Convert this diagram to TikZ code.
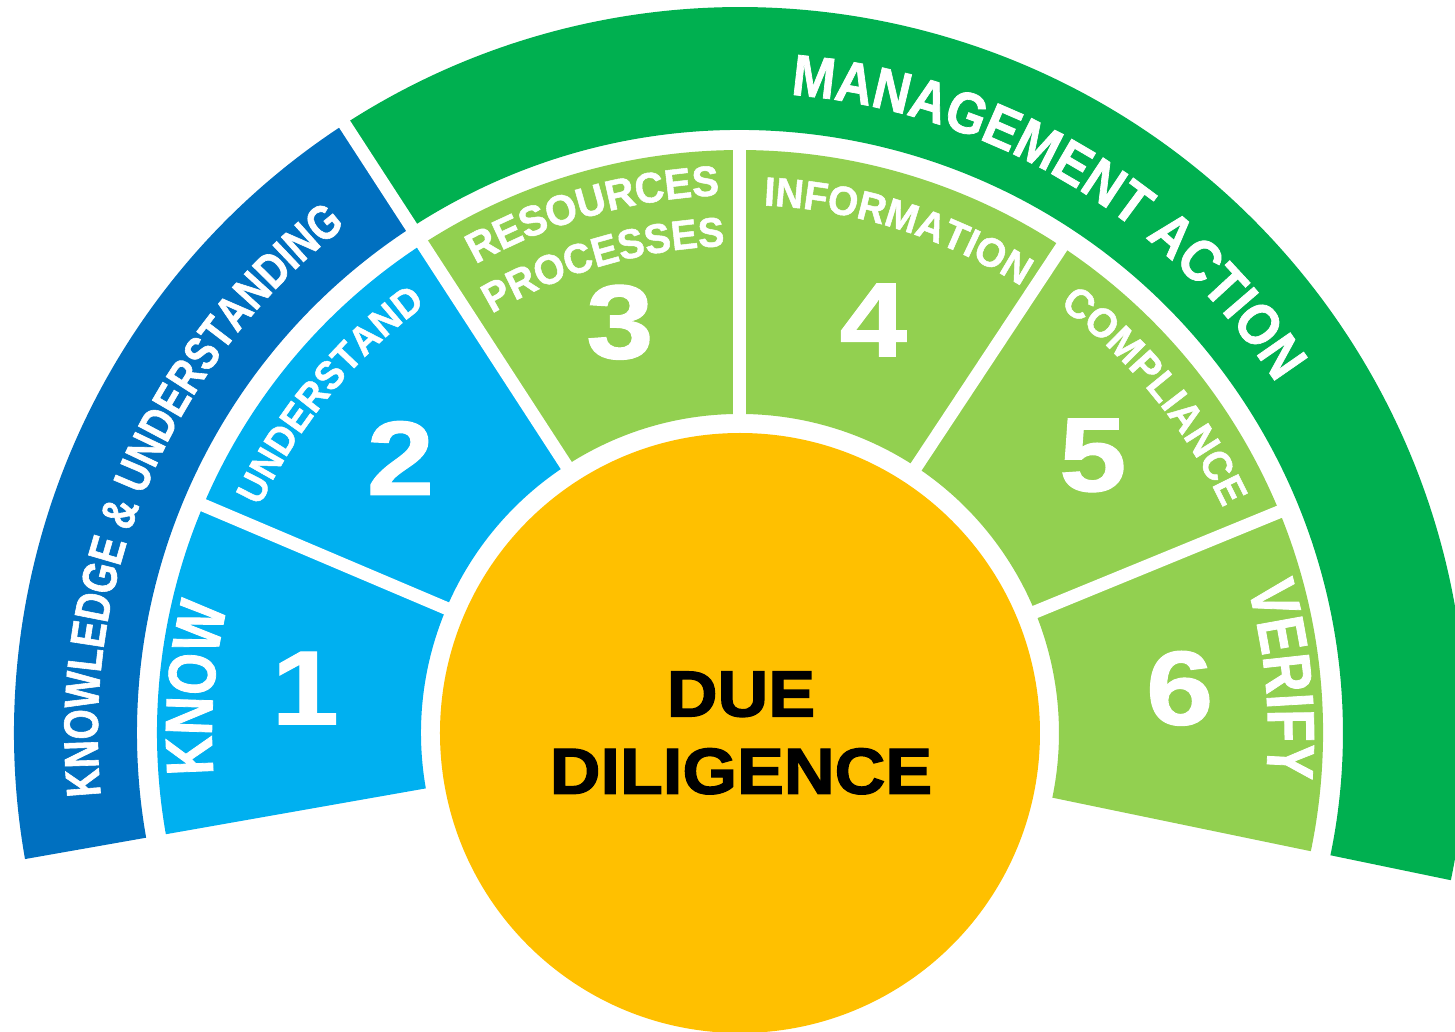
\documentclass[tikz,border=0pt]{standalone}
\usepackage{fontspec}
\setmainfont{Liberation Sans}
\newfontfamily\segfont[FakeStretch=0.8,FakeBold=1.2]{Liberation Sans Bold}
\newfontfamily\bandfont[FakeStretch=0.88,FakeBold=1.2]{Liberation Sans Bold}
\newfontfamily\labelfont[FakeStretch=0.95,FakeBold=1.2]{Liberation Sans Bold}
\newfontfamily\numfont[FakeStretch=1.15,FakeBold=1]{Liberation Sans Bold}
\newfontfamily\ddfont[FakeStretch=1.08,FakeBold=2]{Liberation Sans Bold}
\usetikzlibrary{decorations.text}

\definecolor{kublue}{HTML}{0070C0}
\definecolor{segblue}{HTML}{00B0F0}
\definecolor{magreen}{HTML}{00B050}
\definecolor{seggreen}{HTML}{92D050}
\definecolor{ddgold}{HTML}{FFC000}

\tikzset{
  gap/.style={white,line width=3.7pt},
  numlabel/.style={white,inner sep=0pt,font=\numfont\fontsize{30}{30}\selectfont},
  ddlabel/.style={black,align=center,inner sep=0pt,font=\ddfont\fontsize{18.5}{22}\selectfont},
}

% white text on an arc: centre angle, baseline radius, font, size, text
\newcommand{\ringtext}[5]{%
  \path[decorate,decoration={text along path,text align=center,text color=white,
    text={|#3\fontsize{#4}{#4}\selectfont|#5}}]
    (#1+45:#2) arc[start angle=#1+45,end angle=#1-45,radius=#2];}

\begin{document}
\begin{tikzpicture}[x=0.1mm,y=0.1mm]
  \useasboundingbox (-740,-299) rectangle (715,733);

  % outer bands
  \fill[kublue] (190:603) arc[start angle=190,end angle=123,radius=603] -- (123:726) arc[start angle=123,end angle=190,radius=726] -- cycle;
  \fill[magreen] (123:603) arc[start angle=123,end angle=-11.7,radius=603] -- (-11.7:726) arc[start angle=-11.7,end angle=123,radius=726] -- cycle;
  % inner segments
  \fill[segblue] (190:319) arc[start angle=190,end angle=123,radius=319] -- (123:583) arc[start angle=123,end angle=190,radius=583] -- cycle;
  \fill[seggreen] (123:319) arc[start angle=123,end angle=-11.7,radius=319] -- (-11.7:583) arc[start angle=-11.7,end angle=123,radius=583] -- cycle;
  \foreach \a in {157,123,90,56.5,22.3}
    \draw[gap] (\a:305) -- (\a:590);
  \draw[gap] (123:590) -- (123:740);

  % centre
  \fill[ddgold] (0,0) circle[radius=300];
  \node[ddlabel] (dd) at (1,0) {DUE\\DILIGENCE};

  % numbers
  \foreach \n/\a/\r in {1/174.1/437, 2/141/437, 3/106.3/428, 4/72.1/434, 5/38.2/449, 6/5.8/442}
    \node[numlabel] (n\n) at (\a:\r) {\n};

  % labels
  \ringtext{156.75}{642}{\segfont}{13.8}{KNOWLEDGE {\&} UNDERSTANDING}
  \ringtext{59.3}{640}{\bandfont}{16.6}{MANAGEMENT ACTION}
  \ringtext{175.3}{528}{\segfont}{19}{KNOW}
  \ringtext{140.5}{531}{\labelfont}{11.3}{UNDERSTAND}
  \ringtext{105.8}{538}{\labelfont}{12.1}{RESOURCES}
  \ringtext{106.2}{487}{\labelfont}{11.8}{PROCESSES}
  \ringtext{72.6}{528}{\labelfont}{11.6}{INFORMATION}
  \ringtext{39.1}{533}{\labelfont}{11.7}{COMPLIANCE}
  \ringtext{5.6}{528}{\segfont}{19}{VERIFY}
\end{tikzpicture}
\end{document}
